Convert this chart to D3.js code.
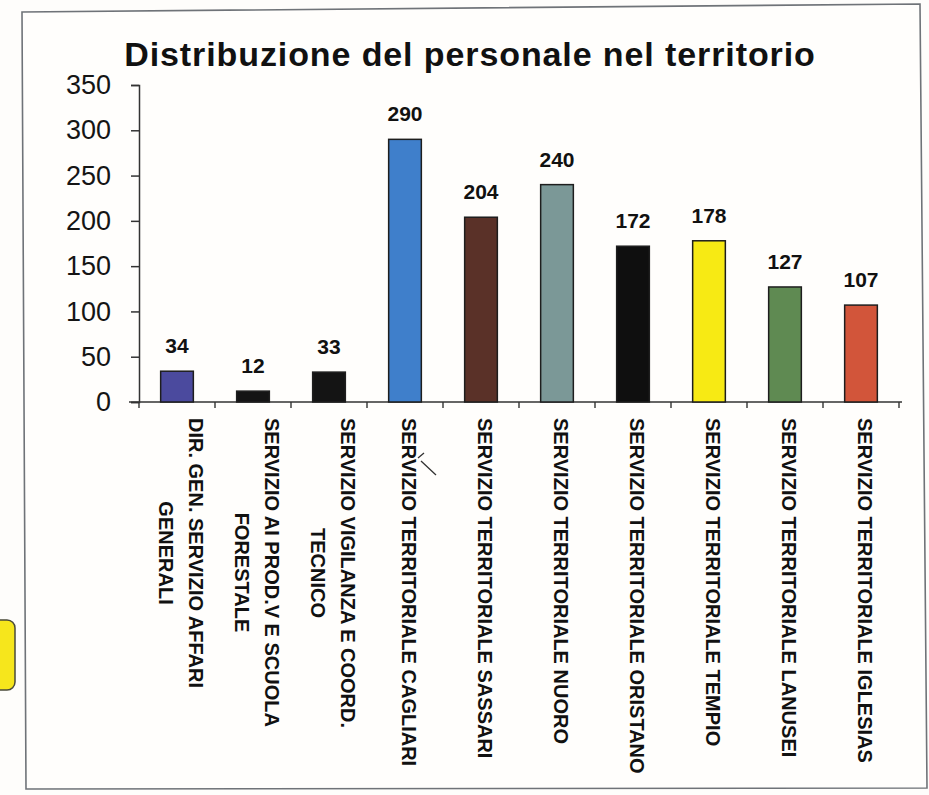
<!DOCTYPE html>
<html>
<head>
<meta charset="utf-8">
<script src="https://cdn.jsdelivr.net/npm/d3@7"></script>
<style>
  body { margin: 0; background: #fefdfb; }
  svg { display: block; font-family: "Liberation Sans", Arial, sans-serif; }
</style>
</head>
<body>
<svg id="chart" width="929" height="795"></svg>
<script>
// categories (each split into the lines shown under the axis)
let categories = [
    ["DIR. GEN. SERVIZIO AFFARI", "GENERALI"],
    ["SERVIZIO AI PROD.V E SCUOLA", "FORESTALE"],
    ["SERVIZIO VIGILANZA E COORD.", "TECNICO"],
    ["SERVIZIO TERRITORIALE CAGLIARI"],
    ["SERVIZIO TERRITORIALE SASSARI"],
    ["SERVIZIO TERRITORIALE NUORO"],
    ["SERVIZIO TERRITORIALE ORISTANO"],
    ["SERVIZIO TERRITORIALE TEMPIO"],
    ["SERVIZIO TERRITORIALE LANUSEI"],
    ["SERVIZIO TERRITORIALE IGLESIAS"]
];
let values = [34, 12, 33, 290, 204, 240, 172, 178, 127, 107];
let colors = ["#4b4a9e", "#141414", "#141414", "#3f7fcb", "#5a3128",
              "#7b9897", "#0f0f0f", "#f7ea14", "#5f8a52", "#d2553a"];
let yTicks = [0, 50, 100, 150, 200, 250, 300, 350];
let title = "Distribuzione del personale nel territorio";

function drawChart() {
    var svg = d3.select("#chart");
    var keys = categories.map(function(c) { return c.join(" "); });

    // page frame (slightly skewed like the scan)
    svg.append("path")
        .attr("d", "M22,12 L920,4 L927,788 L26,789 Z")
        .attr("fill", "#fffefc")
        .attr("stroke", "#6f7378")
        .attr("stroke-width", 1.6);

    // bit of a yellow box sticking in from the left
    svg.append("rect")
        .attr("x", -20).attr("y", 620)
        .attr("width", 35).attr("height", 70)
        .attr("rx", 8)
        .attr("fill", "#f6e61c")
        .attr("stroke", "#4a4a3a")
        .attr("stroke-width", 1.5);

    var x = d3.scaleBand()
        .domain(keys)
        .range([139, 899])
        .paddingInner(0.57)
        .paddingOuter(0.285);

    var y = d3.scaleLinear()
        .domain([0, 350])
        .range([402, 85]);

    // title
    svg.append("text")
        .attr("x", 470)
        .attr("y", 66)
        .attr("text-anchor", "middle")
        .attr("font-size", 34)
        .attr("font-weight", "bold")
        .attr("letter-spacing", 0.9)
        .attr("fill", "#111")
        .text(title);

    // y axis
    var yAxis = svg.append("g")
        .attr("transform", "translate(139,0)")
        .call(d3.axisLeft(y).tickValues(yTicks).tickSize(8).tickPadding(20));
    yAxis.selectAll("text")
        .attr("font-size", 27)
        .attr("fill", "#151515")
        .attr("font-family", "Liberation Sans, Arial, sans-serif");
    yAxis.selectAll("line, path").attr("stroke", "#333").attr("stroke-width", 1.5);

    // x axis: base line with ticks on the band boundaries
    var xAxis = svg.append("g");
    xAxis.append("line")
        .attr("x1", 129).attr("x2", 902)
        .attr("y1", y(0)).attr("y2", y(0))
        .attr("stroke", "#333").attr("stroke-width", 1.5);
    xAxis.selectAll(".xt")
        .data(d3.range(keys.length + 1))
        .enter()
        .append("line")
        .attr("class", "xt")
        .attr("x1", function(i) { return x.range()[0] + i * x.step(); })
        .attr("x2", function(i) { return x.range()[0] + i * x.step(); })
        .attr("y1", y(0))
        .attr("y2", y(0) + 6)
        .attr("stroke", "#333").attr("stroke-width", 1.4);

    // bars
    svg.selectAll(".bar")
        .data(values)
        .enter()
        .append("rect")
        .attr("class", "bar")
        .attr("x", function(d, i) { return x(keys[i]); })
        .attr("y", function(d) { return y(d); })
        .attr("width", x.bandwidth())
        .attr("height", function(d) { return y(0) - y(d); })
        .attr("fill", function(d, i) { return colors[i]; })
        .attr("stroke", "#1e1e1e")
        .attr("stroke-width", 1.5);

    // value labels
    svg.selectAll(".val")
        .data(values)
        .enter()
        .append("text")
        .attr("class", "val")
        .attr("x", function(d, i) { return x(keys[i]) + x.bandwidth() / 2; })
        .attr("y", function(d) { return y(d) - 18; })
        .attr("text-anchor", "middle")
        .attr("font-size", 21)
        .attr("font-weight", "bold")
        .attr("fill", "#111")
        .text(function(d) { return d; });

    // category labels, rotated to read top-down
    var fs = 20, lineGap = 30;
    categories.forEach(function(lines, i) {
        var cx = x(keys[i]) + x.bandwidth() / 2;
        var g = svg.append("g")
            .attr("transform", "translate(" + cx + ",418) rotate(90)");
        var n = lines.length;
        var texts = lines.map(function(line, j) {
            var center = (j - (n - 1) / 2) * lineGap - 4;
            return g.append("text")
                .attr("y", center + 0.36 * fs)
                .attr("font-size", fs)
                .attr("font-weight", "bold")
                .attr("fill", "#111")
                .text(line);
        });
        var L = texts[0].node().getComputedTextLength();
        texts.forEach(function(t, j) {
            if (j > 0) t.attr("x", L / 2).attr("text-anchor", "middle");
        });
    });

    // little pen stroke near the Cagliari label
    svg.append("path")
        .attr("d", "M418,458 L424,453 M421,461 L436,475")
        .attr("fill", "none")
        .attr("stroke", "#333")
        .attr("stroke-width", 1.3);
}

drawChart();
</script>
</body>
</html>
